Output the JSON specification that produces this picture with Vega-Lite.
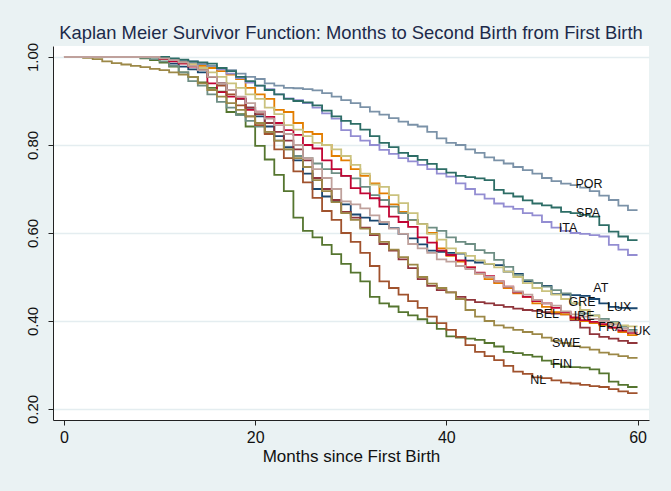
{
 "$schema": "https://vega.github.io/schema/vega-lite/v6.json",
 "width": 596, "height": 374,
 "autosize": {"type": "none"},
 "padding": {"left": 53, "top": 46, "right": 22, "bottom": 71},
 "background": "#eaf2f3",
 "view": {"fill": "white", "stroke": null},
 "title": {"text": "Kaplan Meier Survivor Function: Months to Second Birth from First Birth", "font": "Liberation Sans", "fontSize": 18.4, "fontWeight": "normal", "color": "#1c2a4a", "anchor": "middle", "offset": 0},
 "datasets": {
  "km": [
   {"c":"AT","m":0,"s":1},{"c":"AT","m":10,"s":1},{"c":"AT","m":11,"s":0.995},{"c":"AT","m":12,"s":0.985},{"c":"AT","m":13,"s":0.978},{"c":"AT","m":14,"s":0.972},{"c":"AT","m":15,"s":0.965},{"c":"AT","m":16,"s":0.955},{"c":"AT","m":17,"s":0.94},{"c":"AT","m":18,"s":0.925},{"c":"AT","m":19,"s":0.905},{"c":"AT","m":20,"s":0.885},{"c":"AT","m":21,"s":0.865},{"c":"AT","m":22,"s":0.842},{"c":"AT","m":23,"s":0.82},{"c":"AT","m":24,"s":0.795},{"c":"AT","m":25,"s":0.765},{"c":"AT","m":26,"s":0.735},{"c":"AT","m":27,"s":0.7},{"c":"AT","m":28,"s":0.683},{"c":"AT","m":29,"s":0.672},{"c":"AT","m":30,"s":0.665},{"c":"AT","m":31,"s":0.642},{"c":"AT","m":32,"s":0.635},{"c":"AT","m":33,"s":0.628},{"c":"AT","m":34,"s":0.62},{"c":"AT","m":35,"s":0.611},{"c":"AT","m":36,"s":0.598},{"c":"AT","m":37,"s":0.588},{"c":"AT","m":38,"s":0.574},{"c":"AT","m":39,"s":0.56},{"c":"AT","m":40,"s":0.557},{"c":"AT","m":41,"s":0.555},{"c":"AT","m":42,"s":0.553},{"c":"AT","m":43,"s":0.537},{"c":"AT","m":44,"s":0.533},{"c":"AT","m":45,"s":0.53},{"c":"AT","m":46,"s":0.527},{"c":"AT","m":47,"s":0.512},{"c":"AT","m":48,"s":0.507},{"c":"AT","m":49,"s":0.49},{"c":"AT","m":50,"s":0.486},{"c":"AT","m":51,"s":0.48},{"c":"AT","m":52,"s":0.461},{"c":"AT","m":53,"s":0.46},{"c":"AT","m":54,"s":0.459},{"c":"AT","m":55,"s":0.457},{"c":"AT","m":56,"s":0.45},{"c":"AT","m":57,"s":0.44},{"c":"AT","m":58,"s":0.432},{"c":"AT","m":59,"s":0.43},{"c":"AT","m":60,"s":0.429},
   {"c":"BEL","m":0,"s":1},{"c":"BEL","m":10,"s":1},{"c":"BEL","m":11,"s":0.997},{"c":"BEL","m":12,"s":0.993},{"c":"BEL","m":13,"s":0.988},{"c":"BEL","m":14,"s":0.98},{"c":"BEL","m":15,"s":0.97},{"c":"BEL","m":16,"s":0.955},{"c":"BEL","m":17,"s":0.94},{"c":"BEL","m":18,"s":0.925},{"c":"BEL","m":19,"s":0.905},{"c":"BEL","m":20,"s":0.885},{"c":"BEL","m":21,"s":0.87},{"c":"BEL","m":22,"s":0.85},{"c":"BEL","m":23,"s":0.83},{"c":"BEL","m":24,"s":0.81},{"c":"BEL","m":25,"s":0.79},{"c":"BEL","m":26,"s":0.765},{"c":"BEL","m":27,"s":0.725},{"c":"BEL","m":28,"s":0.7},{"c":"BEL","m":29,"s":0.675},{"c":"BEL","m":30,"s":0.648},{"c":"BEL","m":31,"s":0.635},{"c":"BEL","m":32,"s":0.612},{"c":"BEL","m":33,"s":0.595},{"c":"BEL","m":34,"s":0.575},{"c":"BEL","m":35,"s":0.56},{"c":"BEL","m":36,"s":0.54},{"c":"BEL","m":37,"s":0.52},{"c":"BEL","m":38,"s":0.495},{"c":"BEL","m":39,"s":0.48},{"c":"BEL","m":40,"s":0.47},{"c":"BEL","m":41,"s":0.465},{"c":"BEL","m":42,"s":0.455},{"c":"BEL","m":43,"s":0.448},{"c":"BEL","m":44,"s":0.443},{"c":"BEL","m":45,"s":0.44},{"c":"BEL","m":46,"s":0.436},{"c":"BEL","m":47,"s":0.432},{"c":"BEL","m":48,"s":0.428},{"c":"BEL","m":49,"s":0.425},{"c":"BEL","m":50,"s":0.423},{"c":"BEL","m":51,"s":0.42},{"c":"BEL","m":52,"s":0.417},{"c":"BEL","m":53,"s":0.415},{"c":"BEL","m":54,"s":0.402},{"c":"BEL","m":55,"s":0.385},{"c":"BEL","m":56,"s":0.37},{"c":"BEL","m":57,"s":0.364},{"c":"BEL","m":58,"s":0.36},{"c":"BEL","m":59,"s":0.355},{"c":"BEL","m":60,"s":0.35},
   {"c":"FIN","m":0,"s":1},{"c":"FIN","m":8,"s":1},{"c":"FIN","m":9,"s":0.997},{"c":"FIN","m":10,"s":0.993},{"c":"FIN","m":11,"s":0.987},{"c":"FIN","m":12,"s":0.978},{"c":"FIN","m":13,"s":0.965},{"c":"FIN","m":14,"s":0.955},{"c":"FIN","m":15,"s":0.942},{"c":"FIN","m":16,"s":0.93},{"c":"FIN","m":17,"s":0.921},{"c":"FIN","m":18,"s":0.875},{"c":"FIN","m":19,"s":0.87},{"c":"FIN","m":20,"s":0.842},{"c":"FIN","m":21,"s":0.798},{"c":"FIN","m":22,"s":0.767},{"c":"FIN","m":23,"s":0.732},{"c":"FIN","m":24,"s":0.695},{"c":"FIN","m":25,"s":0.635},{"c":"FIN","m":26,"s":0.605},{"c":"FIN","m":27,"s":0.59},{"c":"FIN","m":28,"s":0.573},{"c":"FIN","m":29,"s":0.552},{"c":"FIN","m":30,"s":0.53},{"c":"FIN","m":31,"s":0.51},{"c":"FIN","m":32,"s":0.49},{"c":"FIN","m":33,"s":0.455},{"c":"FIN","m":34,"s":0.44},{"c":"FIN","m":35,"s":0.433},{"c":"FIN","m":36,"s":0.42},{"c":"FIN","m":37,"s":0.413},{"c":"FIN","m":38,"s":0.404},{"c":"FIN","m":39,"s":0.395},{"c":"FIN","m":40,"s":0.382},{"c":"FIN","m":41,"s":0.365},{"c":"FIN","m":42,"s":0.362},{"c":"FIN","m":43,"s":0.36},{"c":"FIN","m":44,"s":0.357},{"c":"FIN","m":45,"s":0.35},{"c":"FIN","m":46,"s":0.342},{"c":"FIN","m":47,"s":0.33},{"c":"FIN","m":48,"s":0.327},{"c":"FIN","m":49,"s":0.323},{"c":"FIN","m":50,"s":0.319},{"c":"FIN","m":51,"s":0.31},{"c":"FIN","m":52,"s":0.302},{"c":"FIN","m":53,"s":0.296},{"c":"FIN","m":54,"s":0.295},{"c":"FIN","m":55,"s":0.294},{"c":"FIN","m":56,"s":0.29},{"c":"FIN","m":57,"s":0.281},{"c":"FIN","m":58,"s":0.262},{"c":"FIN","m":59,"s":0.255},{"c":"FIN","m":60,"s":0.25},
   {"c":"FRA","m":0,"s":1},{"c":"FRA","m":10,"s":1},{"c":"FRA","m":11,"s":0.998},{"c":"FRA","m":12,"s":0.995},{"c":"FRA","m":13,"s":0.99},{"c":"FRA","m":14,"s":0.985},{"c":"FRA","m":15,"s":0.98},{"c":"FRA","m":16,"s":0.975},{"c":"FRA","m":17,"s":0.968},{"c":"FRA","m":18,"s":0.96},{"c":"FRA","m":19,"s":0.95},{"c":"FRA","m":20,"s":0.93},{"c":"FRA","m":21,"s":0.915},{"c":"FRA","m":22,"s":0.905},{"c":"FRA","m":23,"s":0.88},{"c":"FRA","m":24,"s":0.875},{"c":"FRA","m":25,"s":0.85},{"c":"FRA","m":26,"s":0.83},{"c":"FRA","m":27,"s":0.825},{"c":"FRA","m":28,"s":0.8},{"c":"FRA","m":29,"s":0.775},{"c":"FRA","m":30,"s":0.765},{"c":"FRA","m":31,"s":0.745},{"c":"FRA","m":32,"s":0.73},{"c":"FRA","m":33,"s":0.713},{"c":"FRA","m":34,"s":0.69},{"c":"FRA","m":35,"s":0.665},{"c":"FRA","m":36,"s":0.648},{"c":"FRA","m":37,"s":0.63},{"c":"FRA","m":38,"s":0.62},{"c":"FRA","m":39,"s":0.6},{"c":"FRA","m":40,"s":0.565},{"c":"FRA","m":41,"s":0.548},{"c":"FRA","m":42,"s":0.535},{"c":"FRA","m":43,"s":0.522},{"c":"FRA","m":44,"s":0.508},{"c":"FRA","m":45,"s":0.495},{"c":"FRA","m":46,"s":0.486},{"c":"FRA","m":47,"s":0.475},{"c":"FRA","m":48,"s":0.463},{"c":"FRA","m":49,"s":0.455},{"c":"FRA","m":50,"s":0.44},{"c":"FRA","m":51,"s":0.432},{"c":"FRA","m":52,"s":0.42},{"c":"FRA","m":53,"s":0.415},{"c":"FRA","m":54,"s":0.405},{"c":"FRA","m":55,"s":0.4},{"c":"FRA","m":56,"s":0.395},{"c":"FRA","m":57,"s":0.39},{"c":"FRA","m":58,"s":0.385},{"c":"FRA","m":59,"s":0.375},{"c":"FRA","m":60,"s":0.368},
   {"c":"GRE","m":0,"s":1},{"c":"GRE","m":8,"s":1},{"c":"GRE","m":9,"s":0.998},{"c":"GRE","m":10,"s":0.995},{"c":"GRE","m":11,"s":0.99},{"c":"GRE","m":12,"s":0.98},{"c":"GRE","m":13,"s":0.965},{"c":"GRE","m":14,"s":0.945},{"c":"GRE","m":15,"s":0.935},{"c":"GRE","m":16,"s":0.915},{"c":"GRE","m":17,"s":0.898},{"c":"GRE","m":18,"s":0.885},{"c":"GRE","m":19,"s":0.868},{"c":"GRE","m":20,"s":0.855},{"c":"GRE","m":21,"s":0.842},{"c":"GRE","m":22,"s":0.827},{"c":"GRE","m":23,"s":0.81},{"c":"GRE","m":24,"s":0.79},{"c":"GRE","m":25,"s":0.775},{"c":"GRE","m":26,"s":0.77},{"c":"GRE","m":27,"s":0.758},{"c":"GRE","m":28,"s":0.745},{"c":"GRE","m":29,"s":0.736},{"c":"GRE","m":30,"s":0.73},{"c":"GRE","m":31,"s":0.724},{"c":"GRE","m":32,"s":0.705},{"c":"GRE","m":33,"s":0.686},{"c":"GRE","m":34,"s":0.675},{"c":"GRE","m":35,"s":0.66},{"c":"GRE","m":36,"s":0.645},{"c":"GRE","m":37,"s":0.63},{"c":"GRE","m":38,"s":0.62},{"c":"GRE","m":39,"s":0.612},{"c":"GRE","m":40,"s":0.605},{"c":"GRE","m":41,"s":0.59},{"c":"GRE","m":42,"s":0.58},{"c":"GRE","m":43,"s":0.575},{"c":"GRE","m":44,"s":0.561},{"c":"GRE","m":45,"s":0.555},{"c":"GRE","m":46,"s":0.539},{"c":"GRE","m":47,"s":0.523},{"c":"GRE","m":48,"s":0.505},{"c":"GRE","m":49,"s":0.493},{"c":"GRE","m":50,"s":0.486},{"c":"GRE","m":51,"s":0.478},{"c":"GRE","m":52,"s":0.47},{"c":"GRE","m":53,"s":0.463},{"c":"GRE","m":54,"s":0.44},{"c":"GRE","m":55,"s":0.417},{"c":"GRE","m":56,"s":0.413},{"c":"GRE","m":57,"s":0.405},{"c":"GRE","m":58,"s":0.398},{"c":"GRE","m":59,"s":0.387},{"c":"GRE","m":60,"s":0.38},
   {"c":"IRE","m":0,"s":1},{"c":"IRE","m":10,"s":1},{"c":"IRE","m":11,"s":0.995},{"c":"IRE","m":12,"s":0.99},{"c":"IRE","m":13,"s":0.985},{"c":"IRE","m":14,"s":0.978},{"c":"IRE","m":15,"s":0.97},{"c":"IRE","m":16,"s":0.94},{"c":"IRE","m":17,"s":0.92},{"c":"IRE","m":18,"s":0.91},{"c":"IRE","m":19,"s":0.906},{"c":"IRE","m":20,"s":0.88},{"c":"IRE","m":21,"s":0.876},{"c":"IRE","m":22,"s":0.864},{"c":"IRE","m":23,"s":0.85},{"c":"IRE","m":24,"s":0.834},{"c":"IRE","m":25,"s":0.823},{"c":"IRE","m":26,"s":0.8},{"c":"IRE","m":27,"s":0.792},{"c":"IRE","m":28,"s":0.765},{"c":"IRE","m":29,"s":0.745},{"c":"IRE","m":30,"s":0.73},{"c":"IRE","m":31,"s":0.702},{"c":"IRE","m":32,"s":0.69},{"c":"IRE","m":33,"s":0.679},{"c":"IRE","m":34,"s":0.66},{"c":"IRE","m":35,"s":0.637},{"c":"IRE","m":36,"s":0.625},{"c":"IRE","m":37,"s":0.614},{"c":"IRE","m":38,"s":0.59},{"c":"IRE","m":39,"s":0.578},{"c":"IRE","m":40,"s":0.56},{"c":"IRE","m":41,"s":0.55},{"c":"IRE","m":42,"s":0.538},{"c":"IRE","m":43,"s":0.522},{"c":"IRE","m":44,"s":0.51},{"c":"IRE","m":45,"s":0.502},{"c":"IRE","m":46,"s":0.49},{"c":"IRE","m":47,"s":0.478},{"c":"IRE","m":48,"s":0.465},{"c":"IRE","m":49,"s":0.455},{"c":"IRE","m":50,"s":0.445},{"c":"IRE","m":51,"s":0.44},{"c":"IRE","m":52,"s":0.43},{"c":"IRE","m":53,"s":0.42},{"c":"IRE","m":54,"s":0.408},{"c":"IRE","m":55,"s":0.402},{"c":"IRE","m":56,"s":0.398},{"c":"IRE","m":57,"s":0.393},{"c":"IRE","m":58,"s":0.385},{"c":"IRE","m":59,"s":0.378},{"c":"IRE","m":60,"s":0.373},
   {"c":"ITA","m":0,"s":1},{"c":"ITA","m":10,"s":1},{"c":"ITA","m":11,"s":0.998},{"c":"ITA","m":12,"s":0.995},{"c":"ITA","m":13,"s":0.992},{"c":"ITA","m":14,"s":0.99},{"c":"ITA","m":15,"s":0.985},{"c":"ITA","m":16,"s":0.98},{"c":"ITA","m":17,"s":0.972},{"c":"ITA","m":18,"s":0.962},{"c":"ITA","m":19,"s":0.952},{"c":"ITA","m":20,"s":0.942},{"c":"ITA","m":21,"s":0.935},{"c":"ITA","m":22,"s":0.927},{"c":"ITA","m":23,"s":0.915},{"c":"ITA","m":24,"s":0.906},{"c":"ITA","m":25,"s":0.902},{"c":"ITA","m":26,"s":0.895},{"c":"ITA","m":27,"s":0.885},{"c":"ITA","m":28,"s":0.872},{"c":"ITA","m":29,"s":0.86},{"c":"ITA","m":30,"s":0.834},{"c":"ITA","m":31,"s":0.82},{"c":"ITA","m":32,"s":0.81},{"c":"ITA","m":33,"s":0.8},{"c":"ITA","m":34,"s":0.789},{"c":"ITA","m":35,"s":0.78},{"c":"ITA","m":36,"s":0.77},{"c":"ITA","m":37,"s":0.763},{"c":"ITA","m":38,"s":0.755},{"c":"ITA","m":39,"s":0.745},{"c":"ITA","m":40,"s":0.735},{"c":"ITA","m":41,"s":0.728},{"c":"ITA","m":42,"s":0.713},{"c":"ITA","m":43,"s":0.7},{"c":"ITA","m":44,"s":0.688},{"c":"ITA","m":45,"s":0.678},{"c":"ITA","m":46,"s":0.667},{"c":"ITA","m":47,"s":0.66},{"c":"ITA","m":48,"s":0.655},{"c":"ITA","m":49,"s":0.645},{"c":"ITA","m":50,"s":0.64},{"c":"ITA","m":51,"s":0.625},{"c":"ITA","m":52,"s":0.612},{"c":"ITA","m":53,"s":0.605},{"c":"ITA","m":54,"s":0.6},{"c":"ITA","m":55,"s":0.598},{"c":"ITA","m":56,"s":0.595},{"c":"ITA","m":57,"s":0.592},{"c":"ITA","m":58,"s":0.573},{"c":"ITA","m":59,"s":0.562},{"c":"ITA","m":60,"s":0.55},
   {"c":"LUX","m":0,"s":1},{"c":"LUX","m":10,"s":1},{"c":"LUX","m":11,"s":0.998},{"c":"LUX","m":12,"s":0.995},{"c":"LUX","m":13,"s":0.99},{"c":"LUX","m":14,"s":0.985},{"c":"LUX","m":15,"s":0.975},{"c":"LUX","m":16,"s":0.965},{"c":"LUX","m":17,"s":0.955},{"c":"LUX","m":18,"s":0.94},{"c":"LUX","m":19,"s":0.93},{"c":"LUX","m":20,"s":0.915},{"c":"LUX","m":21,"s":0.905},{"c":"LUX","m":22,"s":0.885},{"c":"LUX","m":23,"s":0.87},{"c":"LUX","m":24,"s":0.845},{"c":"LUX","m":25,"s":0.835},{"c":"LUX","m":26,"s":0.82},{"c":"LUX","m":27,"s":0.805},{"c":"LUX","m":28,"s":0.8},{"c":"LUX","m":29,"s":0.79},{"c":"LUX","m":30,"s":0.775},{"c":"LUX","m":31,"s":0.755},{"c":"LUX","m":32,"s":0.735},{"c":"LUX","m":33,"s":0.71},{"c":"LUX","m":34,"s":0.705},{"c":"LUX","m":35,"s":0.686},{"c":"LUX","m":36,"s":0.668},{"c":"LUX","m":37,"s":0.645},{"c":"LUX","m":38,"s":0.62},{"c":"LUX","m":39,"s":0.598},{"c":"LUX","m":40,"s":0.585},{"c":"LUX","m":41,"s":0.565},{"c":"LUX","m":42,"s":0.555},{"c":"LUX","m":43,"s":0.548},{"c":"LUX","m":44,"s":0.538},{"c":"LUX","m":45,"s":0.53},{"c":"LUX","m":46,"s":0.522},{"c":"LUX","m":47,"s":0.512},{"c":"LUX","m":48,"s":0.5},{"c":"LUX","m":49,"s":0.486},{"c":"LUX","m":50,"s":0.475},{"c":"LUX","m":51,"s":0.468},{"c":"LUX","m":52,"s":0.46},{"c":"LUX","m":53,"s":0.45},{"c":"LUX","m":54,"s":0.44},{"c":"LUX","m":55,"s":0.425},{"c":"LUX","m":56,"s":0.412},{"c":"LUX","m":57,"s":0.4},{"c":"LUX","m":58,"s":0.395},{"c":"LUX","m":59,"s":0.39},{"c":"LUX","m":60,"s":0.388},
   {"c":"NL","m":0,"s":1},{"c":"NL","m":10,"s":1},{"c":"NL","m":11,"s":0.997},{"c":"NL","m":12,"s":0.993},{"c":"NL","m":13,"s":0.988},{"c":"NL","m":14,"s":0.98},{"c":"NL","m":15,"s":0.97},{"c":"NL","m":16,"s":0.955},{"c":"NL","m":17,"s":0.935},{"c":"NL","m":18,"s":0.915},{"c":"NL","m":19,"s":0.89},{"c":"NL","m":20,"s":0.865},{"c":"NL","m":21,"s":0.845},{"c":"NL","m":22,"s":0.825},{"c":"NL","m":23,"s":0.79},{"c":"NL","m":24,"s":0.77},{"c":"NL","m":25,"s":0.74},{"c":"NL","m":26,"s":0.715},{"c":"NL","m":27,"s":0.68},{"c":"NL","m":28,"s":0.65},{"c":"NL","m":29,"s":0.63},{"c":"NL","m":30,"s":0.6},{"c":"NL","m":31,"s":0.58},{"c":"NL","m":32,"s":0.555},{"c":"NL","m":33,"s":0.525},{"c":"NL","m":34,"s":0.49},{"c":"NL","m":35,"s":0.475},{"c":"NL","m":36,"s":0.46},{"c":"NL","m":37,"s":0.445},{"c":"NL","m":38,"s":0.43},{"c":"NL","m":39,"s":0.41},{"c":"NL","m":40,"s":0.395},{"c":"NL","m":41,"s":0.38},{"c":"NL","m":42,"s":0.364},{"c":"NL","m":43,"s":0.345},{"c":"NL","m":44,"s":0.33},{"c":"NL","m":45,"s":0.32},{"c":"NL","m":46,"s":0.311},{"c":"NL","m":47,"s":0.298},{"c":"NL","m":48,"s":0.285},{"c":"NL","m":49,"s":0.28},{"c":"NL","m":50,"s":0.272},{"c":"NL","m":51,"s":0.27},{"c":"NL","m":52,"s":0.265},{"c":"NL","m":53,"s":0.26},{"c":"NL","m":54,"s":0.258},{"c":"NL","m":55,"s":0.255},{"c":"NL","m":56,"s":0.252},{"c":"NL","m":57,"s":0.25},{"c":"NL","m":58,"s":0.245},{"c":"NL","m":59,"s":0.24},{"c":"NL","m":60,"s":0.236},
   {"c":"POR","m":0,"s":1},{"c":"POR","m":10,"s":1},{"c":"POR","m":11,"s":0.998},{"c":"POR","m":12,"s":0.995},{"c":"POR","m":13,"s":0.992},{"c":"POR","m":14,"s":0.988},{"c":"POR","m":15,"s":0.984},{"c":"POR","m":16,"s":0.98},{"c":"POR","m":17,"s":0.975},{"c":"POR","m":18,"s":0.97},{"c":"POR","m":19,"s":0.962},{"c":"POR","m":20,"s":0.955},{"c":"POR","m":21,"s":0.95},{"c":"POR","m":22,"s":0.94},{"c":"POR","m":23,"s":0.935},{"c":"POR","m":24,"s":0.93},{"c":"POR","m":25,"s":0.929},{"c":"POR","m":26,"s":0.927},{"c":"POR","m":27,"s":0.924},{"c":"POR","m":28,"s":0.918},{"c":"POR","m":29,"s":0.91},{"c":"POR","m":30,"s":0.902},{"c":"POR","m":31,"s":0.895},{"c":"POR","m":32,"s":0.886},{"c":"POR","m":33,"s":0.876},{"c":"POR","m":34,"s":0.869},{"c":"POR","m":35,"s":0.861},{"c":"POR","m":36,"s":0.853},{"c":"POR","m":37,"s":0.846},{"c":"POR","m":38,"s":0.842},{"c":"POR","m":39,"s":0.83},{"c":"POR","m":40,"s":0.815},{"c":"POR","m":41,"s":0.805},{"c":"POR","m":42,"s":0.8},{"c":"POR","m":43,"s":0.79},{"c":"POR","m":44,"s":0.782},{"c":"POR","m":45,"s":0.772},{"c":"POR","m":46,"s":0.765},{"c":"POR","m":47,"s":0.758},{"c":"POR","m":48,"s":0.75},{"c":"POR","m":49,"s":0.743},{"c":"POR","m":50,"s":0.735},{"c":"POR","m":51,"s":0.725},{"c":"POR","m":52,"s":0.718},{"c":"POR","m":53,"s":0.712},{"c":"POR","m":54,"s":0.709},{"c":"POR","m":55,"s":0.703},{"c":"POR","m":56,"s":0.695},{"c":"POR","m":57,"s":0.685},{"c":"POR","m":58,"s":0.675},{"c":"POR","m":59,"s":0.662},{"c":"POR","m":60,"s":0.652},
   {"c":"SPA","m":0,"s":1},{"c":"SPA","m":11,"s":1},{"c":"SPA","m":12,"s":0.997},{"c":"SPA","m":13,"s":0.994},{"c":"SPA","m":14,"s":0.99},{"c":"SPA","m":15,"s":0.988},{"c":"SPA","m":16,"s":0.985},{"c":"SPA","m":17,"s":0.975},{"c":"SPA","m":18,"s":0.968},{"c":"SPA","m":19,"s":0.955},{"c":"SPA","m":20,"s":0.945},{"c":"SPA","m":21,"s":0.935},{"c":"SPA","m":22,"s":0.925},{"c":"SPA","m":23,"s":0.915},{"c":"SPA","m":24,"s":0.905},{"c":"SPA","m":25,"s":0.9},{"c":"SPA","m":26,"s":0.897},{"c":"SPA","m":27,"s":0.89},{"c":"SPA","m":28,"s":0.878},{"c":"SPA","m":29,"s":0.865},{"c":"SPA","m":30,"s":0.855},{"c":"SPA","m":31,"s":0.848},{"c":"SPA","m":32,"s":0.835},{"c":"SPA","m":33,"s":0.82},{"c":"SPA","m":34,"s":0.805},{"c":"SPA","m":35,"s":0.795},{"c":"SPA","m":36,"s":0.782},{"c":"SPA","m":37,"s":0.775},{"c":"SPA","m":38,"s":0.766},{"c":"SPA","m":39,"s":0.757},{"c":"SPA","m":40,"s":0.745},{"c":"SPA","m":41,"s":0.737},{"c":"SPA","m":42,"s":0.73},{"c":"SPA","m":43,"s":0.727},{"c":"SPA","m":44,"s":0.724},{"c":"SPA","m":45,"s":0.72},{"c":"SPA","m":46,"s":0.698},{"c":"SPA","m":47,"s":0.69},{"c":"SPA","m":48,"s":0.683},{"c":"SPA","m":49,"s":0.674},{"c":"SPA","m":50,"s":0.667},{"c":"SPA","m":51,"s":0.663},{"c":"SPA","m":52,"s":0.658},{"c":"SPA","m":53,"s":0.648},{"c":"SPA","m":54,"s":0.645},{"c":"SPA","m":55,"s":0.641},{"c":"SPA","m":56,"s":0.637},{"c":"SPA","m":57,"s":0.618},{"c":"SPA","m":58,"s":0.603},{"c":"SPA","m":59,"s":0.592},{"c":"SPA","m":60,"s":0.584},
   {"c":"SWE","m":0,"s":1},{"c":"SWE","m":2,"s":1},{"c":"SWE","m":3,"s":0.998},{"c":"SWE","m":4,"s":0.995},{"c":"SWE","m":5,"s":0.99},{"c":"SWE","m":6,"s":0.986},{"c":"SWE","m":7,"s":0.983},{"c":"SWE","m":8,"s":0.98},{"c":"SWE","m":9,"s":0.977},{"c":"SWE","m":10,"s":0.973},{"c":"SWE","m":11,"s":0.97},{"c":"SWE","m":12,"s":0.965},{"c":"SWE","m":13,"s":0.96},{"c":"SWE","m":14,"s":0.955},{"c":"SWE","m":15,"s":0.94},{"c":"SWE","m":16,"s":0.925},{"c":"SWE","m":17,"s":0.91},{"c":"SWE","m":18,"s":0.895},{"c":"SWE","m":19,"s":0.88},{"c":"SWE","m":20,"s":0.865},{"c":"SWE","m":21,"s":0.85},{"c":"SWE","m":22,"s":0.83},{"c":"SWE","m":23,"s":0.81},{"c":"SWE","m":24,"s":0.79},{"c":"SWE","m":25,"s":0.77},{"c":"SWE","m":26,"s":0.75},{"c":"SWE","m":27,"s":0.72},{"c":"SWE","m":28,"s":0.695},{"c":"SWE","m":29,"s":0.67},{"c":"SWE","m":30,"s":0.645},{"c":"SWE","m":31,"s":0.63},{"c":"SWE","m":32,"s":0.61},{"c":"SWE","m":33,"s":0.598},{"c":"SWE","m":34,"s":0.58},{"c":"SWE","m":35,"s":0.562},{"c":"SWE","m":36,"s":0.545},{"c":"SWE","m":37,"s":0.528},{"c":"SWE","m":38,"s":0.5},{"c":"SWE","m":39,"s":0.485},{"c":"SWE","m":40,"s":0.475},{"c":"SWE","m":41,"s":0.465},{"c":"SWE","m":42,"s":0.45},{"c":"SWE","m":43,"s":0.425},{"c":"SWE","m":44,"s":0.41},{"c":"SWE","m":45,"s":0.4},{"c":"SWE","m":46,"s":0.39},{"c":"SWE","m":47,"s":0.385},{"c":"SWE","m":48,"s":0.38},{"c":"SWE","m":49,"s":0.375},{"c":"SWE","m":50,"s":0.37},{"c":"SWE","m":51,"s":0.362},{"c":"SWE","m":52,"s":0.355},{"c":"SWE","m":53,"s":0.35},{"c":"SWE","m":54,"s":0.343},{"c":"SWE","m":55,"s":0.34},{"c":"SWE","m":56,"s":0.335},{"c":"SWE","m":57,"s":0.328},{"c":"SWE","m":58,"s":0.324},{"c":"SWE","m":59,"s":0.32},{"c":"SWE","m":60,"s":0.316},
   {"c":"UK","m":0,"s":1},{"c":"UK","m":10,"s":1},{"c":"UK","m":11,"s":0.997},{"c":"UK","m":12,"s":0.993},{"c":"UK","m":13,"s":0.988},{"c":"UK","m":14,"s":0.98},{"c":"UK","m":15,"s":0.97},{"c":"UK","m":16,"s":0.955},{"c":"UK","m":17,"s":0.94},{"c":"UK","m":18,"s":0.925},{"c":"UK","m":19,"s":0.91},{"c":"UK","m":20,"s":0.895},{"c":"UK","m":21,"s":0.875},{"c":"UK","m":22,"s":0.86},{"c":"UK","m":23,"s":0.845},{"c":"UK","m":24,"s":0.825},{"c":"UK","m":25,"s":0.8},{"c":"UK","m":26,"s":0.77},{"c":"UK","m":27,"s":0.745},{"c":"UK","m":28,"s":0.725},{"c":"UK","m":29,"s":0.7},{"c":"UK","m":30,"s":0.672},{"c":"UK","m":31,"s":0.665},{"c":"UK","m":32,"s":0.656},{"c":"UK","m":33,"s":0.64},{"c":"UK","m":34,"s":0.625},{"c":"UK","m":35,"s":0.61},{"c":"UK","m":36,"s":0.598},{"c":"UK","m":37,"s":0.575},{"c":"UK","m":38,"s":0.565},{"c":"UK","m":39,"s":0.555},{"c":"UK","m":40,"s":0.54},{"c":"UK","m":41,"s":0.535},{"c":"UK","m":42,"s":0.525},{"c":"UK","m":43,"s":0.518},{"c":"UK","m":44,"s":0.508},{"c":"UK","m":45,"s":0.5},{"c":"UK","m":46,"s":0.49},{"c":"UK","m":47,"s":0.478},{"c":"UK","m":48,"s":0.467},{"c":"UK","m":49,"s":0.46},{"c":"UK","m":50,"s":0.448},{"c":"UK","m":51,"s":0.44},{"c":"UK","m":52,"s":0.435},{"c":"UK","m":53,"s":0.422},{"c":"UK","m":54,"s":0.415},{"c":"UK","m":55,"s":0.41},{"c":"UK","m":56,"s":0.405},{"c":"UK","m":57,"s":0.4},{"c":"UK","m":58,"s":0.392},{"c":"UK","m":59,"s":0.383},{"c":"UK","m":60,"s":0.376}
  ],
  "labels": [
   {"c":"POR","m":54.93,"s":0.711},{"c":"SPA","m":54.83,"s":0.646},{"c":"ITA","m":52.74,"s":0.611},{"c":"AT","m":56.16,"s":0.474},{"c":"GRE","m":54.2,"s":0.444},{"c":"LUX","m":58.07,"s":0.432},{"c":"BEL","m":50.55,"s":0.416},{"c":"IRE","m":54.41,"s":0.412},{"c":"FRA","m":57.2,"s":0.387},{"c":"UK","m":60.47,"s":0.378},{"c":"SWE","m":52.53,"s":0.351},{"c":"FIN","m":52.1,"s":0.302},{"c":"NL","m":49.6,"s":0.266}
  ]
 },
 "encoding": {
  "x": {"field": "m", "type": "quantitative", "scale": {"domain": [-1.15, 61.2], "nice": false, "zero": false},
        "axis": {"values": [0, 20, 40, 60], "title": "Months since First Birth", "grid": false, "labelFontSize": 16, "titleFontSize": 17, "titleFontWeight": "normal", "labelPadding": 4, "titlePadding": 3}},
  "y": {"field": "s", "type": "quantitative", "scale": {"domain": [0.175, 1.025], "nice": false, "zero": false},
        "axis": {"values": [0.2, 0.4, 0.6, 0.8, 1.0], "format": ".2f", "title": null, "grid": true, "labelAngle": 270, "labelAlign": "center", "labelBaseline": "alphabetic", "labelFontSize": 15, "labelPadding": 11}}
 },
 "layer": [
  {"data": {"name": "km"},
   "mark": {"type": "line", "interpolate": "step-before", "strokeWidth": 1.8},
   "encoding": {
    "color": {"field": "c", "type": "nominal", "legend": null,
      "scale": {"domain": ["AT","BEL","FIN","FRA","GRE","IRE","ITA","LUX","NL","POR","SPA","SWE","UK"],
                "range": ["#1a476f","#90353b","#55752f","#e37e00","#6e8e84","#c10534","#938dd2","#cac27e","#a0522d","#7b92a8","#2d6d66","#9c8847","#bfa19c"]}}
   }},
  {"data": {"name": "labels"},
   "mark": {"type": "text", "font": "Liberation Sans", "fontSize": 12.5, "color": "#111111"},
   "encoding": {"text": {"field": "c", "type": "nominal"}}}
 ],
 "config": {
  "font": "Liberation Sans",
  "axis": {"labelFont": "Liberation Sans", "titleFont": "Liberation Sans", "labelColor": "#111111", "titleColor": "#111111", "domainColor": "#222222", "tickColor": "#222222", "tickSize": 5, "domainWidth": 1, "tickWidth": 1, "gridColor": "#e4edf0", "gridWidth": 1.5}
 }
}
